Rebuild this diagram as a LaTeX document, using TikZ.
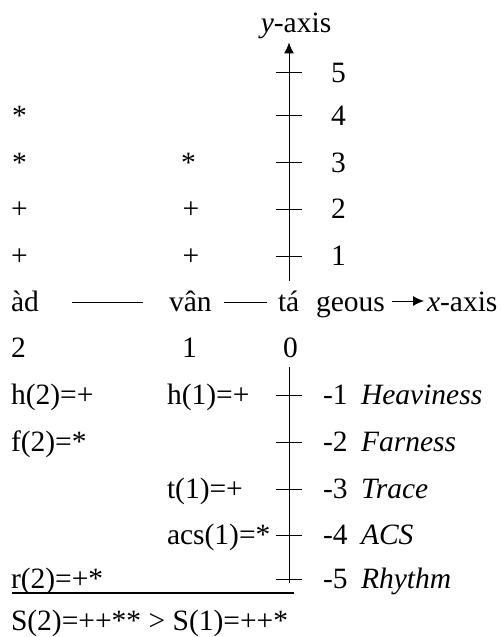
\documentclass[tikz,border=0pt]{standalone}
\usepackage{fontspec}
\setmainfont{Liberation Serif}
\usetikzlibrary{arrows.meta}
\begin{document}
\begin{tikzpicture}[x=1bp,y=-1bp,
  lab/.style={inner sep=0pt,outer sep=0pt,anchor=base west,font=\fontsize{29.5bp}{36bp}\selectfont},
  sym/.style={inner sep=0pt,outer sep=0pt,anchor=base,font=\fontsize{29.5bp}{36bp}\selectfont},
  axisline/.style={line width=1bp},
  arr/.style={-{Latex[length=11bp,width=10bp]}},
  tickmark/.style={line width=1bp},
  rule/.style={line width=1.5bp}]
\useasboundingbox (0,0) rectangle (502,637);
% y-axis
\node[sym] (ylab) at (296,33) {\textit{y}-axis};
\coordinate (ybot) at (289,281);
\coordinate (ytop) at (289,42.5);
\draw[axisline,arr] (ybot) -- (ytop);
\foreach \t/\n in {73/5,116/4,163/3,209/2,256/1}{
  \draw[tickmark] (276,\t) -- (302,\t);
  \node[lab] (pos\n) at (331,{\t+9.5}) {\n};
}
% lower axis
\coordinate (ltop) at (289,367);
\coordinate (lbot) at (289,583);
\draw[axisline] (ltop) -- (lbot);
\foreach \t/\n/\w in {395/1/Heaviness,442/2/Farness,489/3/Trace,535/4/ACS,579/5/Rhythm}{
  \draw[tickmark] (276,\t) -- (302,\t);
  \node[lab] (neg\n) at (323,{\t+9.5}) {-\n};
  \node[lab] (w\n) at (361,{\t+9.5}) {\textit{\w}};
}
% symbol columns
\node[sym] (a4) at (19.5,125.5) {*};
\node[sym] (a3) at (19.5,172.5) {*};
\node[sym] (b3) at (188.5,172.5) {*};
\node[sym] (a2) at (19.5,218.5) {+};
\node[sym] (b2) at (191,218.5) {+};
\node[sym] (a1) at (19.5,265.5) {+};
\node[sym] (b1) at (191,265.5) {+};
% middle row
\node[lab] (ad) at (11,311) {àd};
\node[lab] (van) at (169,311) {vân};
\node[lab] (ta) at (278,311) {tá};
\node[lab] (geous) at (316,311) {geous};
\node[lab] (xlab) at (427,311) {\textit{x}-axis};
\coordinate (l1a) at (72,302);
\coordinate (l1b) at (143,302);
\coordinate (l2a) at (224,302);
\coordinate (l2b) at (267,302);
\coordinate (xa) at (392,301);
\coordinate (xb) at (424,301);
\draw[axisline] (l1a) -- (l1b);
\draw[axisline] (l2a) -- (l2b);
\draw[axisline,arr] (xa) -- (xb);
% numbers row
\node[lab] (n2) at (11,357) {2};
\node[sym] (n1) at (189.5,357) {1};
\node[sym] (n0) at (290.5,357) {0};
% lower texts
\node[lab] (h2) at (11,404.5) {h(2)=+};
\node[lab] (h1) at (167,404.5) {h(1)=+};
\node[lab] (f2) at (11,451.5) {f(2)=*};
\node[lab] (t1) at (167,498.5) {t(1)=+};
\node[lab] (acs1) at (167,544.5) {acs(1)=*};
\node[lab] (r2) at (11,588.5) {r(2)=+*};
\coordinate (ua) at (12,593);
\coordinate (ub) at (294,593);
\draw[rule] (ua) -- (ub);
\node[lab] (sum) at (11,630) {S(2)=++** > S(1)=++*};
\end{tikzpicture}
\end{document}
